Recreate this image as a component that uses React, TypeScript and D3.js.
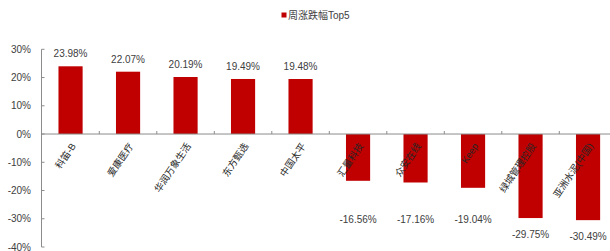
import React from 'react'
import * as d3 from 'd3'

// weekly change, top 5 gainers / losers
const names = ['科笛-B', '爱康医疗', '华润万象生活', '东方甄选', '中国太平', '汇量科技', '众安在线', 'Keep', '绿城管理控股', '亚洲水泥(中国)']
const changes = [23.98, 22.07, 20.19, 19.49, 19.48, -16.56, -17.16, -19.04, -29.75, -30.49]
const yTicks = [30, 20, 10, 0, -10, -20, -30, -40]
const legendLabel = '周涨跌幅Top5'

const W = 610
const H = 251
const FONT = '"Liberation Sans", Arial, "Noto Sans CJK SC", sans-serif'
const RED = '#C00000'
const AXIS = '#8C8C8C'
const TEXT = '#404040'

const App: React.FC = () => {
    const x = d3.scaleBand<string>().domain(names).range([41.8, 616.8]).paddingInner(0.58).paddingOuter(0.29)
    const y = d3.scaleLinear().domain([-40, 30]).range([247, 49.3])
    const y0 = y(0)
    const step = x.step()

    return (
        <svg width={W} height={H} style={{ position: 'absolute', left: 0, top: 0, background: '#fff' }} fontFamily={FONT}>
            {/* legend */}
            <rect x={281.5} y={12.5} width={5} height={5} fill={RED} />
            <text x={288} y={18.5} fontSize={10} fill={TEXT}>{legendLabel}</text>

            {/* bars */}
            {names.map((n, i) => {
                const v = changes[i]
                return (
                    <rect
                        key={n}
                        x={x(n)}
                        y={Math.min(y(v), y0)}
                        width={x.bandwidth()}
                        height={Math.abs(y(v) - y0)}
                        fill={RED}
                    />
                )
            })}

            {/* y axis */}
            <line x1={41.5} x2={41.5} y1={y(30)} y2={y(-40)} stroke={AXIS} strokeWidth={1} />
            {yTicks.map((t) => (
                <g key={t}>
                    <line x1={41.5} x2={44.5} y1={y(t)} y2={y(t)} stroke={AXIS} />
                    <text x={31} y={y(t)} dy="0.35em" textAnchor="end" fontSize={10} fill={TEXT}>{`${t}%`}</text>
                </g>
            ))}

            {/* x axis */}
            <line x1={41.5} x2={W} y1={y0} y2={y0} stroke={AXIS} />
            {names.map((n, i) => (
                <line key={'t' + n} x1={41.8 + (i + 1) * step} x2={41.8 + (i + 1) * step} y1={y0} y2={y0 - 3} stroke={AXIS} />
            ))}

            {/* category labels */}
            {names.map((n) => {
                const cx = (x(n) as number) + x.bandwidth() / 2 + 3
                const cy = y0 + 10
                return (
                    <text
                        key={'c' + n}
                        transform={`translate(${cx},${cy}) rotate(-56)`}
                        textAnchor="end"
                        dy="0.35em"
                        fontSize={9.5}
                        fill="#262626"
                    >
                        {n}
                    </text>
                )
            })}

            {/* value labels */}
            {names.map((n, i) => {
                const v = changes[i]
                const cx = (x(n) as number) + x.bandwidth() / 2
                const ly = v >= 0 ? y(v) - 9 : Math.max(y(v) + 20, y(-30) + 4)
                return (
                    <text key={'v' + n} x={cx} y={ly} textAnchor="middle" fontSize={10} fill={TEXT}>
                        {`${v.toFixed(2)}%`}
                    </text>
                )
            })}
        </svg>
    )
}

export default App
